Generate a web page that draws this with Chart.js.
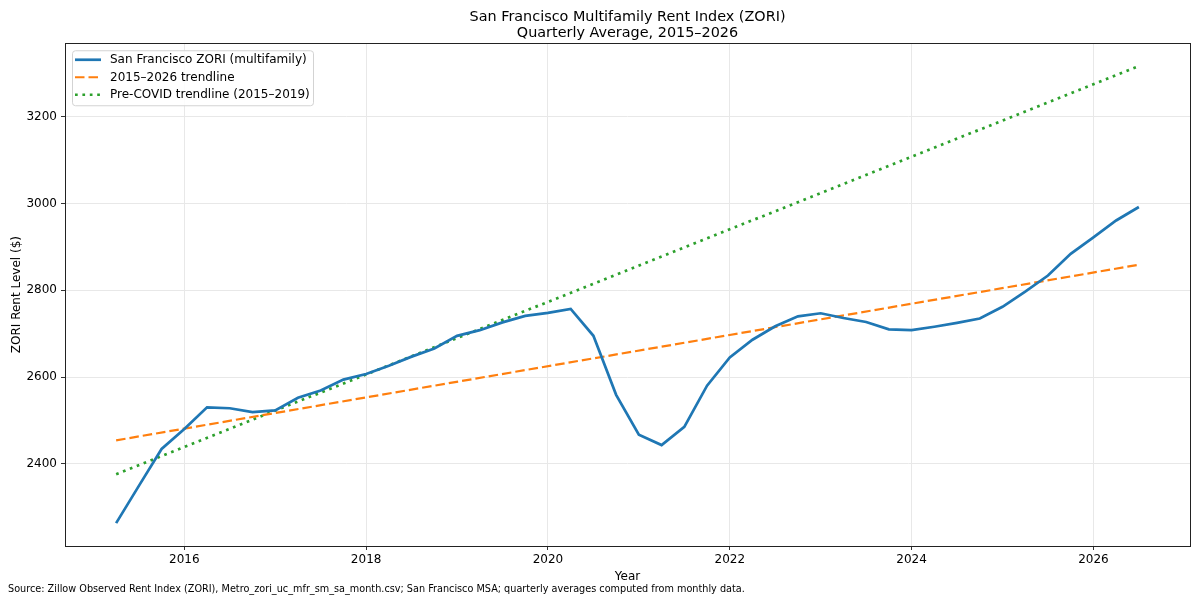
<!DOCTYPE html>
<html>
<head>
<meta charset="utf-8">
<script src="https://cdn.jsdelivr.net/npm/chart.js@4.4.1/dist/chart.umd.min.js"></script>
<style>
  html, body { margin: 0; padding: 0; background: #fff; }
  #wrap { width: 1200px; height: 602px; position: relative; }
</style>
</head>
<body>
<div id="wrap"><canvas id="chartZori"></canvas></div>
<script>
// quarterly positions (decimal year) and quarterly average rent
const quarters = [
    2015.25, 2015.5, 2015.75,
    2016.0, 2016.25, 2016.5, 2016.75,
    2017.0, 2017.25, 2017.5, 2017.75,
    2018.0, 2018.25, 2018.5, 2018.75,
    2019.0, 2019.25, 2019.5, 2019.75,
    2020.0, 2020.25, 2020.5, 2020.75,
    2021.0, 2021.25, 2021.5, 2021.75,
    2022.0, 2022.25, 2022.5, 2022.75,
    2023.0, 2023.25, 2023.5, 2023.75,
    2024.0, 2024.25, 2024.5, 2024.75,
    2025.0, 2025.25, 2025.5, 2025.75,
    2026.0, 2026.25, 2026.5];
const zoriValues = [
    2263, 2349, 2434,
    2480, 2530, 2528, 2519,
    2523, 2552, 2569, 2594,
    2607, 2626, 2647, 2666,
    2695, 2708, 2726, 2741,
    2748, 2757, 2695, 2559,
    2467, 2443, 2485, 2580,
    2645, 2686, 2717, 2740,
    2747, 2736, 2727, 2710,
    2708, 2716, 2725, 2735,
    2762, 2797, 2834, 2884,
    2922, 2961, 2992];
// trendline end points
const trendYears = [2015.25, 2026.5];
const trendAll = [2454, 2859];
const trendPreCovid = [2376, 3317];

const xTicks = [2016, 2018, 2020, 2022, 2024, 2026];
const yTicks = [2400, 2600, 2800, 3000, 3200];

const SOURCE_NOTE = 'Source: Zillow Observed Rent Index (ZORI), Metro_zori_uc_mfr_sm_sa_month.csv; San Francisco MSA; quarterly averages computed from monthly data.';

function toPoints(xs, ys) {
    return xs.map((x, i) => ({ x: x, y: ys[i] }));
}

// matplotlib-like 5% margins
const xSpan = quarters[quarters.length - 1] - quarters[0];
const allY = zoriValues.concat(trendAll, trendPreCovid);
const yLo = Math.min(...allY), yHi = Math.max(...allY);
const ySpan = yHi - yLo;

const framePlugin = {
    id: 'frame',
    afterDatasetsDraw(chart) {
        const { ctx, chartArea: a } = chart;
        ctx.save();
        ctx.strokeStyle = '#222';
        ctx.lineWidth = 1;
        ctx.strokeRect(Math.round(a.left) + 0.5, Math.round(a.top) + 0.5,
            Math.round(a.right - a.left), Math.round(a.bottom - a.top));
        ctx.restore();
    }
};

const legendPlugin = {
    id: 'boxLegend',
    afterDatasetsDraw(chart) {
        const { ctx, chartArea: a } = chart;
        const x0 = a.left + 7, y0 = a.top + 7, w = 241, h = 55, r = 3;
        ctx.save();
        ctx.beginPath();
        ctx.roundRect(x0 + 0.5, y0 + 0.5, w, h, r);
        ctx.fillStyle = 'rgba(255,255,255,0.85)';
        ctx.fill();
        ctx.strokeStyle = '#d3d3d3';
        ctx.lineWidth = 1;
        ctx.stroke();
        ctx.font = '12px "DejaVu Sans"';
        ctx.textBaseline = 'middle';
        chart.data.datasets.forEach((ds, i) => {
            const yy = y0 + 9.5 + i * 17.5;
            ctx.beginPath();
            ctx.strokeStyle = ds.borderColor;
            ctx.lineWidth = ds.borderWidth;
            ctx.lineCap = ds.borderCapStyle || 'butt';
            ctx.setLineDash(ds.borderDash || []);
            ctx.moveTo(x0 + 3, yy);
            ctx.lineTo(x0 + 29, yy);
            ctx.stroke();
            ctx.setLineDash([]);
            ctx.fillStyle = '#000';
            ctx.fillText(ds.label, x0 + 38, yy + 0.5);
        });
        ctx.restore();
    }
};

const notePlugin = {
    id: 'sourceNote',
    afterDraw(chart) {
        const ctx = chart.ctx;
        ctx.save();
        ctx.font = '9.7px "DejaVu Sans"';
        ctx.fillStyle = '#000';
        ctx.textBaseline = 'middle';
        ctx.fillText(SOURCE_NOTE, 8, 589);
        ctx.restore();
    }
};

function DrawChartZori() {
    Chart.defaults.font.family = '"DejaVu Sans", sans-serif';
    Chart.defaults.color = '#000';

    const data = {
        datasets: [
            {
                label: 'San Francisco ZORI (multifamily)',
                data: toPoints(quarters, zoriValues),
                borderColor: '#1f77b4',
                borderWidth: 2.7,
                borderCapStyle: 'butt',
                pointRadius: 0,
                tension: 0
            },
            {
                label: '2015\u20132026 trendline',
                data: toPoints(trendYears, trendAll),
                borderColor: '#ff7f0e',
                borderWidth: 2.2,
                borderDash: [9.5, 4],
                pointRadius: 0
            },
            {
                label: 'Pre-COVID trendline (2015\u20132019)',
                data: toPoints(trendYears, trendPreCovid),
                borderColor: '#2ca02c',
                borderWidth: 2.7,
                borderDash: [2.7, 4.7],
                pointRadius: 0
            }
        ]
    };

    const gridStyle = {
        color: '#e8e8e8',
        lineWidth: 1,
        tickColor: '#333',
        tickLength: 4,
        drawTicks: true
    };

    const config = {
        type: 'line',
        data: data,
        options: {
            responsive: true,
            maintainAspectRatio: false,
            animation: false,
            layout: { padding: { left: 0, right: 10, top: 0, bottom: 0 } },
            scales: {
                x: {
                    type: 'linear',
                    min: quarters[0] - 0.05 * xSpan,
                    max: quarters[quarters.length - 1] + 0.05 * xSpan,
                    afterBuildTicks: scale => { scale.ticks = xTicks.map(v => ({ value: v })); },
                    afterFit: scale => { scale.height = 56; },
                    grid: gridStyle,
                    border: { display: false },
                    ticks: {
                        font: { size: 12 },
                        padding: 3,
                        maxRotation: 0,
                        callback: v => String(v)
                    },
                    title: {
                        display: true,
                        text: 'Year',
                        font: { size: 12 },
                        padding: { top: 0, bottom: 18 }
                    }
                },
                y: {
                    min: yLo - 0.05 * ySpan,
                    max: yHi + 0.05 * ySpan,
                    afterBuildTicks: scale => { scale.ticks = yTicks.map(v => ({ value: v })); },
                    afterFit: scale => { scale.width = 65; },
                    grid: gridStyle,
                    border: { display: false },
                    ticks: {
                        font: { size: 12 },
                        padding: 4,
                        callback: v => String(v)
                    },
                    title: {
                        display: true,
                        text: 'ZORI Rent Level ($)',
                        font: { size: 12 },
                        padding: { top: 10, bottom: 0 }
                    }
                }
            },
            plugins: {
                legend: { display: false },
                tooltip: { enabled: false },
                title: {
                    display: true,
                    fullSize: false,
                    text: ['San Francisco Multifamily Rent Index (ZORI)', 'Quarterly Average, 2015\u20132026'],
                    font: { size: 14.4, weight: 'normal', lineHeight: 1.12 },
                    color: '#000',
                    padding: { top: 9, bottom: 2 }
                }
            }
        },
        plugins: [framePlugin, legendPlugin, notePlugin]
    };

    const ctx = document.getElementById('chartZori');
    new Chart(ctx, config);
}

DrawChartZori();
</script>
</body>
</html>
